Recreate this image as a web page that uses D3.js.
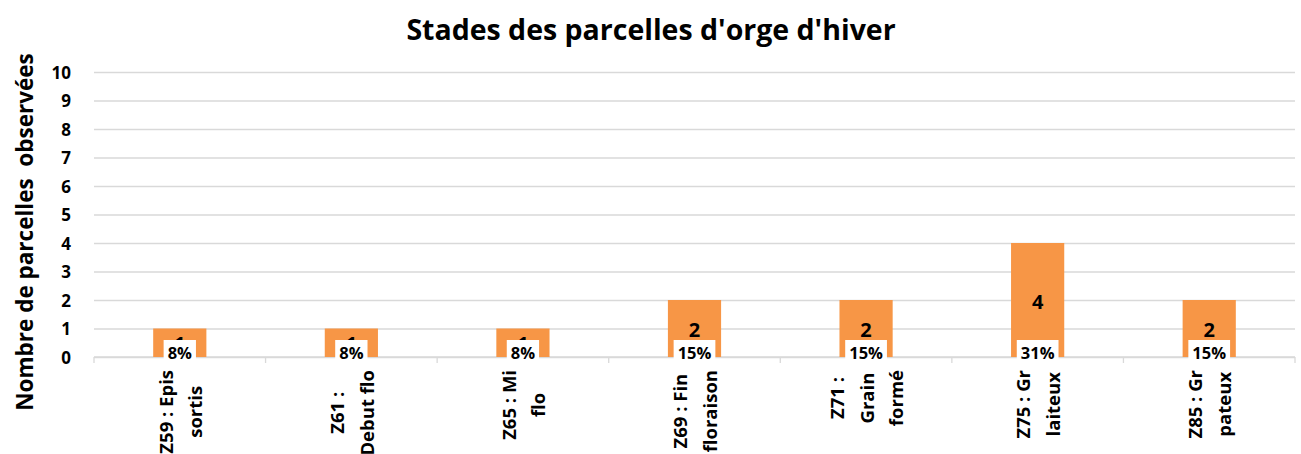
<!DOCTYPE html>
<html><head><meta charset="utf-8">
<script src="https://cdn.jsdelivr.net/npm/d3@7"></script>
<style>
html,body{margin:0;padding:0;background:#fff;}
svg{display:block;font-family:"Open Sans","Liberation Sans",sans-serif;}
</style></head>
<body><svg id="c" width="1301" height="454"></svg>
<script>
const categories = [["Z59 : Epis","sortis"],["Z61 :","Debut flo"],["Z65 : Mi","flo"],["Z69 : Fin","floraison"],["Z71 :","Grain","formé"],["Z75 : Gr","laiteux"],["Z85 : Gr","pateux"]];
const counts = [1,1,1,2,2,4,2];
const percents = ["8%","8%","8%","15%","15%","31%","15%"];
const yTicks = [0,1,2,3,4,5,6,7,8,9,10];
const title = "Stades des parcelles d'orge d'hiver";
const yTitle = "Nombre de parcelles  observées";

const svg = d3.select("#c");
const M = {left:94, right:1295, top:72, bottom:357};
const x = d3.scaleBand().domain(d3.range(categories.length)).range([M.left, M.right]).paddingInner(0.69).paddingOuter(0.345);
const y = d3.scaleLinear().domain([0,10]).range([M.bottom, M.top]);

// title
svg.append("text").attr("x", 651).attr("y", 40).attr("text-anchor","middle")
  .attr("font-size", 28.5).attr("font-weight","bold").text(title);

// y axis title
svg.append("text").attr("transform","translate(24,232) rotate(-90)")
  .attr("text-anchor","middle").attr("dominant-baseline","central")
  .attr("font-size", 22.5).attr("font-weight","bold").style("white-space","pre").text(yTitle);

// gridlines
const gy = svg.append("g").attr("transform",`translate(${M.left},0)`)
  .call(d3.axisLeft(y).tickValues(yTicks).tickSize(-(M.right-M.left)).tickFormat(""));
gy.select(".domain").remove();
gy.selectAll(".tick line").attr("stroke","#d9d9d9").attr("stroke-width",1.3);

// y tick labels
svg.append("g").selectAll("text").data(yTicks).join("text")
  .attr("x", 71).attr("y", d=>y(d)).attr("text-anchor","end").attr("dominant-baseline","central")
  .attr("font-size", 17).attr("font-weight","bold").text(d=>d);

// x axis line and boundary ticks
const step = x.step();
svg.append("line").attr("x1",M.left).attr("x2",M.right).attr("y1",y(0)).attr("y2",y(0))
  .attr("stroke","#d9d9d9").attr("stroke-width",1.3);
svg.append("g").selectAll("line").data(d3.range(categories.length+1)).join("line")
  .attr("x1", i=>M.left + i*step).attr("x2", i=>M.left + i*step)
  .attr("y1", y(0)).attr("y2", y(0)+6).attr("stroke","#d9d9d9").attr("stroke-width",1.3);

// bars
svg.append("g").selectAll("rect").data(counts).join("rect")
  .attr("x",(d,i)=>x(i)).attr("width",x.bandwidth())
  .attr("y",d=>y(d)).attr("height",d=>y(0)-y(d)).attr("fill","#F79646");

// value labels
svg.append("g").selectAll("text").data(counts).join("text")
  .attr("x",(d,i)=>x(i)+x.bandwidth()/2).attr("y",d=>(y(d)+y(0))/2+1)
  .attr("text-anchor","middle").attr("dominant-baseline","central")
  .attr("font-size",20).attr("font-weight","bold").text(d=>d);

// percent labels with white boxes
const pg = svg.append("g").selectAll("g").data(percents).join("g")
  .attr("transform",(d,i)=>`translate(${x(i)+x.bandwidth()/2},${y(0)})`);
pg.append("text").attr("x",0).attr("y",-5)
  .attr("text-anchor","middle").attr("dominant-baseline","central")
  .attr("font-size",16.5).attr("font-weight","bold").text(d=>d);
pg.each(function(){
  const g = d3.select(this);
  const w = g.select("text").node().getComputedTextLength();
  g.insert("rect","text").attr("x",-w/2-4).attr("width",w+8).attr("y",-17).attr("height",22).attr("fill","#fff");
});

// category labels (rotated, multi-line, centered lines, top-aligned block)
const lineGap = 29.5;
categories.forEach((lines,i)=>{
  const cx = x(i)+x.bandwidth()/2;
  const g = svg.append("g");
  const n = lines.length;
  const ts = lines.map((t,k)=> g.append("text")
    .attr("text-anchor","middle").attr("dominant-baseline","central")
    .attr("font-size",18.5).attr("font-weight","bold").text(t));
  const L = d3.max(ts, t=>t.node().getComputedTextLength());
  ts.forEach((t,k)=>{
    const lx = cx + (k-(n-1)/2)*lineGap;
    t.attr("transform",`translate(${lx},${370+L/2}) rotate(-90)`);
  });
});
</script></body></html>
